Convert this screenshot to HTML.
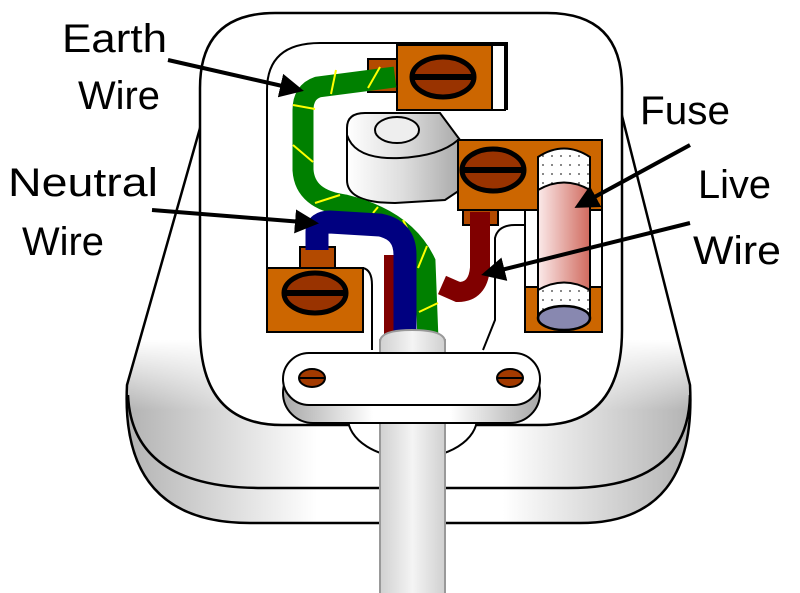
<!DOCTYPE html>
<html><head><meta charset="utf-8"><style>html,body{margin:0;padding:0;background:#fff}svg{display:block}</style></head>
<body>
<svg width="800" height="593" viewBox="0 0 800 593" xmlns="http://www.w3.org/2000/svg">
<defs>
<linearGradient id="g" x1="0" x2="1" y1="0" y2="0">
<stop offset="0" stop-color="#a8a8a8"/><stop offset="0.35" stop-color="#fff"/><stop offset="0.65" stop-color="#fff"/><stop offset="1" stop-color="#a8a8a8"/></linearGradient>
<linearGradient id="c" x1="0" x2="1" y1="0" y2="0">
<stop offset="0" stop-color="#d0d0d0"/><stop offset="0.5" stop-color="#f4f4f4"/><stop offset="1" stop-color="#d0d0d0"/></linearGradient>
<linearGradient id="p" x1="0" x2="1" y1="0" y2="0">
<stop offset="0" stop-color="#fff"/><stop offset="0.5" stop-color="#ddd"/><stop offset="1" stop-color="#aaa"/></linearGradient>
<linearGradient id="f" x1="0" x2="1" y1="0" y2="0">
<stop offset="0" stop-color="#fbeaea"/><stop offset="1" stop-color="#d06a5e"/></linearGradient>
<linearGradient id="vm" x1="0" x2="0" y1="0" y2="1" gradientUnits="objectBoundingBox">
<stop offset="0" stop-color="#000"/><stop offset="0.35" stop-color="#fff"/><stop offset="1" stop-color="#fff"/></linearGradient>
<mask id="m"><rect x="100" y="340" width="620" height="200" fill="url(#vm)"/></mask>
<pattern id="dots" width="9" height="9" patternUnits="userSpaceOnUse"><rect width="9" height="9" fill="#fff"/><circle cx="3" cy="3" r="0.9" fill="#333"/></pattern>
<marker id="ah" markerWidth="6" markerHeight="6" refX="5" refY="3" orient="auto" markerUnits="strokeWidth"><path d="M0,0 L6,3 L0,6 Z" fill="#000"/></marker>
<clipPath id="bc"><path d="M208,100 L127,385 Q120,523 250,523 L580,523 Q697,523 690,385 L618,100 Z"/></clipPath>
</defs>

<path d="M208,100 L127,385 Q120,523 250,523 L580,523 Q697,523 690,385 L618,100 Z" fill="#fff"/>
<g clip-path="url(#bc)"><rect x="100" y="340" width="620" height="200" fill="url(#g)" mask="url(#m)"/></g>
<path d="M208,100 L127,385 Q120,523 250,523 L580,523 Q697,523 690,385 L618,100 Z" fill="none" stroke="#000" stroke-width="2.5"/>
<path d="M128,395 Q132,488 262,488 L568,488 Q688,488 690,395" fill="none" stroke="#000" stroke-width="2.5"/>
<path d="M200,88 Q200,13 275,13 L547,13 Q622,13 622,88 L622,330 Q622,425 540,425 L282,425 Q200,425 200,330 Z" fill="#fff" stroke="#000" stroke-width="2.5"/>
<path d="M267,330 L267,90 Q267,43 320,43 L507,43 L507,110" fill="none" stroke="#000" stroke-width="2"/>

<path d="M348,418 A64,40 0 0 0 477,418" fill="#fff" stroke="#000" stroke-width="2"/>
<rect x="380" y="340" width="65" height="260" fill="url(#c)" stroke="#999" stroke-width="2"/>

<rect x="368" y="59" width="30" height="33" fill="#b34a00" stroke="#000" stroke-width="2"/>
<rect x="397" y="45" width="95" height="65" fill="#cc6600" stroke="#000" stroke-width="2"/>
<rect x="492" y="45" width="13" height="65" fill="#fff" stroke="#000" stroke-width="2"/>
<ellipse cx="443" cy="77" rx="31" ry="20" fill="#993300" stroke="#000" stroke-width="5"/>
<line x1="413" y1="77" x2="473" y2="77" stroke="#000" stroke-width="6"/>

<path d="M347,128 Q347,113 365,113 L440,113 L460,140 L460,190 L445,200 L395,203 Q347,203 347,180 Z" fill="url(#p)" stroke="#000" stroke-width="2"/>
<path d="M347,135 Q355,160 400,158 Q440,156 458,140" fill="none" stroke="#000" stroke-width="2"/>
<ellipse cx="397" cy="130" rx="22" ry="13" fill="#eee" stroke="#000" stroke-width="2"/>

<rect x="458" y="140" width="144" height="70" fill="#cc6600" stroke="#000" stroke-width="2"/>
<rect x="463" y="210" width="35" height="15" fill="#b34a00" stroke="#000" stroke-width="2"/>
<ellipse cx="493" cy="170" rx="31" ry="21" fill="#993300" stroke="#000" stroke-width="5"/>
<line x1="463" y1="170" x2="523" y2="170" stroke="#000" stroke-width="6"/>
<rect x="525" y="210" width="77" height="77" fill="#fff" stroke="#000" stroke-width="2"/>
<rect x="525" y="287" width="77" height="45" fill="#cc6600" stroke="#000" stroke-width="2"/>
<path d="M483,350 L495,320 L495,238 Q498,225 515,225 L525,225" fill="none" stroke="#000" stroke-width="2"/>
<path d="M538,157 Q564,140 590,157 L590,318 L538,318 Z" fill="url(#dots)" stroke="#000" stroke-width="2"/>
<path d="M538,190 Q564,175 590,190 L590,290 Q564,275 538,290 Z" fill="url(#f)" stroke="#000" stroke-width="2"/>
<ellipse cx="564" cy="318" rx="26" ry="12" fill="#8888b0" stroke="#000" stroke-width="2.5"/>

<rect x="300" y="247" width="35" height="22" fill="#b34a00" stroke="#000" stroke-width="2"/>
<rect x="267" y="268" width="96" height="64" fill="#cc6600" stroke="#000" stroke-width="2"/>
<ellipse cx="315" cy="293" rx="31" ry="20" fill="#993300" stroke="#000" stroke-width="5"/>
<line x1="285" y1="293" x2="345" y2="293" stroke="#000" stroke-width="6"/>
<path d="M363,268 Q372,270 372,285 L372,350" fill="none" stroke="#000" stroke-width="2"/>

<path d="M395,77 L318,87 Q303,92 303,110 L303,170 Q305,200 345,205 Q405,220 425,262 L428,340" fill="none" stroke="#008000" stroke-width="21"/>
<g stroke="#ffff00" stroke-width="2">
<line x1="380" y1="67" x2="368" y2="88"/><line x1="336" y1="70" x2="331" y2="94"/><line x1="293" y1="105" x2="315" y2="109"/><line x1="293" y1="145" x2="313" y2="162"/><line x1="315" y1="203" x2="340" y2="195"/><line x1="373" y1="213" x2="378" y2="207"/><line x1="403" y1="220" x2="407" y2="228"/><line x1="427" y1="246" x2="418" y2="268"/><line x1="419" y1="312" x2="438" y2="303"/></g>
<path d="M390,255 L390,340" fill="none" stroke="#800000" stroke-width="12"/>
<path d="M317,250 L317,232 Q317,222 330,222 L380,225 Q405,230 405,255 L405,340" fill="none" stroke="#000080" stroke-width="23"/>
<path d="M480,212 L480,268 Q478,292 458,292 L442,285" fill="none" stroke="#800000" stroke-width="20"/>

<path d="M380,355 L380,342 Q380,330 412,330 Q445,330 445,342 L445,355 Z" fill="url(#c)" stroke="#999" stroke-width="2"/>

<rect x="283" y="363" width="257" height="60" rx="30" fill="url(#g)" stroke="#000" stroke-width="2"/>
<rect x="283" y="353" width="257" height="52" rx="26" fill="#fff" stroke="#000" stroke-width="2"/>
<ellipse cx="312" cy="378" rx="13" ry="9" fill="#a33a00" stroke="#000" stroke-width="2"/>
<line x1="299" y1="378" x2="325" y2="378" stroke="#000" stroke-width="2"/>
<ellipse cx="510" cy="378" rx="13" ry="9" fill="#a33a00" stroke="#000" stroke-width="2"/>
<line x1="497" y1="378" x2="523" y2="378" stroke="#000" stroke-width="2"/>

<g stroke="#000" stroke-width="4" fill="none">
<line x1="168" y1="60" x2="300" y2="90" marker-end="url(#ah)"/>
<line x1="152" y1="210" x2="315" y2="223" marker-end="url(#ah)"/>
<line x1="690" y1="145" x2="578" y2="206" marker-end="url(#ah)"/>
<line x1="690" y1="223" x2="485" y2="274" marker-end="url(#ah)"/>
</g>

<g font-family="'Liberation Sans', sans-serif" font-size="40" fill="#000">
<text x="62" y="52" textLength="105" lengthAdjust="spacingAndGlyphs">Earth</text>
<text x="78" y="109" textLength="82" lengthAdjust="spacingAndGlyphs">Wire</text>
<text x="8" y="196" textLength="150" lengthAdjust="spacingAndGlyphs">Neutral</text>
<text x="22" y="255" textLength="82" lengthAdjust="spacingAndGlyphs">Wire</text>
<text x="640" y="124" textLength="90" lengthAdjust="spacingAndGlyphs">Fuse</text>
<text x="698" y="198" textLength="73" lengthAdjust="spacingAndGlyphs">Live</text>
<text x="693" y="264" textLength="88" lengthAdjust="spacingAndGlyphs">Wire</text>
</g>
</svg>
</body></html>
